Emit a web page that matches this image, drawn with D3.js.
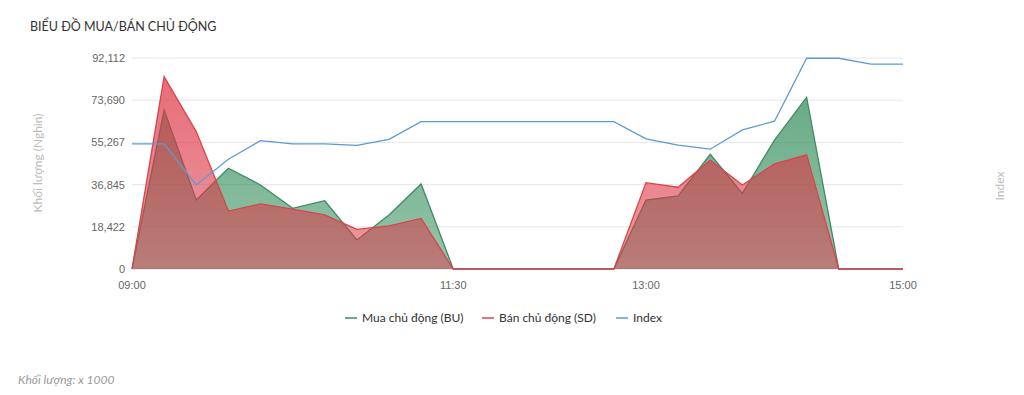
<!DOCTYPE html>
<html><head><meta charset="utf-8">
<script src="https://cdn.jsdelivr.net/npm/d3@7"></script>
<style>body{margin:0;background:#fff}svg{display:block}</style>
</head><body>
<script>
const times = ["09:00","09:15","09:30","09:45","10:00","10:15","10:30","10:45","11:00","11:15","11:30","11:45","12:00","12:15","12:30","12:45","13:00","13:15","13:30","13:45","14:00","14:15","14:30","14:45","15:00"];
const buValues = [0,69.4,30.1,44.0,36.7,26.5,29.8,12.7,23.6,37.1,0,0,0,0,0,0,30.1,31.9,50.1,33.0,56.3,75.0,0,0,0];
const sdValues = [0,84.0,60.0,25.3,28.4,26.1,23.6,17.3,18.8,22.1,0,0,0,0,0,0,37.7,35.7,47.6,36.7,45.9,49.8,0,0,0];
const indexValues = [54.6,54.6,36.7,47.9,56.0,54.6,54.6,54.0,56.6,64.3,64.3,64.3,64.3,64.3,64.3,64.3,56.8,54.1,52.3,60.7,64.5,92.0,92.0,89.4,89.4];
const yTicks = [0,18.422,36.845,55.267,73.690,92.112];
const yTickLabels = ["0","18,422","36,845","55,267","73,690","92,112"];
const xTicks = ["09:00","11:30","13:00","15:00"];

const W=1024,H=395;
const svg=d3.select("body").append("svg").attr("width",W).attr("height",H);
const parse=d3.timeParse("%H:%M");
const x=d3.scaleTime().domain([parse("09:00"),parse("15:00")]).range([132,903]);
const y=d3.scaleLinear().domain([0,92.112]).range([269,58]);
const yIdx=d3.scaleLinear().domain([0,92.112]).range([269,58]);

const defs=svg.append("defs");
function grad(id,c,a1,a2){
  const g=defs.append("linearGradient").attr("id",id).attr("x1",0).attr("y1",0).attr("x2",0).attr("y2",1);
  g.append("stop").attr("offset","0%").attr("stop-color",c).attr("stop-opacity",a1);
  g.append("stop").attr("offset","100%").attr("stop-color",c).attr("stop-opacity",a2);
}
grad("gGreen","#2e8b57",0.72,0.5);
grad("gRed","#dc3545",0.72,0.5);

svg.append("text").attr("x",30).attr("y",31).text("BIỂU ĐỒ MUA/BÁN CHỦ ĐỘNG")
  .attr("font-family","Lato, 'Open Sans', sans-serif").attr("font-size",12.5).attr("fill","#333");

// gridlines & y labels
const ga=svg.append("g");
yTicks.forEach((t,i)=>{
  ga.append("line").attr("x1",132).attr("x2",903).attr("y1",y(t)).attr("y2",y(t))
    .attr("stroke",i===0?"#ccd6eb":"#e6e6e6").attr("stroke-width",1);
  ga.append("text").attr("x",125).attr("y",y(t)+4).attr("text-anchor","end").text(yTickLabels[i])
    .attr("font-family","'Liberation Sans', Arial, sans-serif").attr("font-size",11).attr("fill","#666");
});
xTicks.forEach(t=>{
  svg.append("text").attr("x",x(parse(t))).attr("y",289).attr("text-anchor","middle").text(t)
    .attr("font-family","'Liberation Sans', Arial, sans-serif").attr("font-size",11).attr("fill","#666");
});
svg.append("text").attr("transform","translate(42,163) rotate(-90)").attr("text-anchor","middle")
  .text("Khối lượng (Nghìn)").attr("font-family","Lato, 'Open Sans', sans-serif").attr("font-size",12).attr("fill","#bbb");
svg.append("text").attr("transform","translate(1004,186) rotate(-90)").attr("text-anchor","middle")
  .text("Index").attr("font-family","Lato, 'Open Sans', sans-serif").attr("font-size",12).attr("fill","#bbb");

const data=times.map((t,i)=>({t:parse(t),bu:buValues[i],sd:sdValues[i],idx:indexValues[i]}));
const areaBU=d3.area().x(d=>x(d.t)).y0(y(0)).y1(d=>y(d.bu));
const areaSD=d3.area().x(d=>x(d.t)).y0(y(0)).y1(d=>y(d.sd));
const lineBU=d3.line().x(d=>x(d.t)).y(d=>y(d.bu));
const lineSD=d3.line().x(d=>x(d.t)).y(d=>y(d.sd));
const lineIdx=d3.line().x(d=>x(d.t)).y(d=>yIdx(d.idx));

svg.append("path").datum(data).attr("d",areaBU).attr("fill","url(#gGreen)");
svg.append("path").datum(data).attr("d",lineBU).attr("fill","none").attr("stroke","#3f8a62").attr("stroke-width",1.3);
svg.append("path").datum(data).attr("d",areaSD).attr("fill","url(#gRed)");
svg.append("path").datum(data).attr("d",lineSD).attr("fill","none").attr("stroke","#d9444c").attr("stroke-width",1.3);
svg.append("path").datum(data).attr("d",lineIdx).attr("fill","none").attr("stroke","#5b9bd5").attr("stroke-width",1.3);

// legend
const legend=[{n:"Mua chủ động (BU)",c:"#3f8a62",x:345},{n:"Bán chủ động (SD)",c:"#d9444c",x:482},{n:"Index",c:"#5b9bd5",x:616}];
legend.forEach(l=>{
  svg.append("line").attr("x1",l.x).attr("x2",l.x+12).attr("y1",318).attr("y2",318).attr("stroke",l.c).attr("stroke-width",1.5);
  svg.append("text").attr("x",l.x+17).attr("y",322).text(l.n)
    .attr("font-family","Lato, 'Open Sans', sans-serif").attr("font-size",12).attr("fill","#333");
});
svg.append("text").attr("x",18).attr("y",384).text("Khối lượng: x 1000")
  .attr("font-family","Lato, 'Open Sans', sans-serif").attr("font-size",12).attr("font-style","italic").attr("fill","#999");
</script>
</body></html>
